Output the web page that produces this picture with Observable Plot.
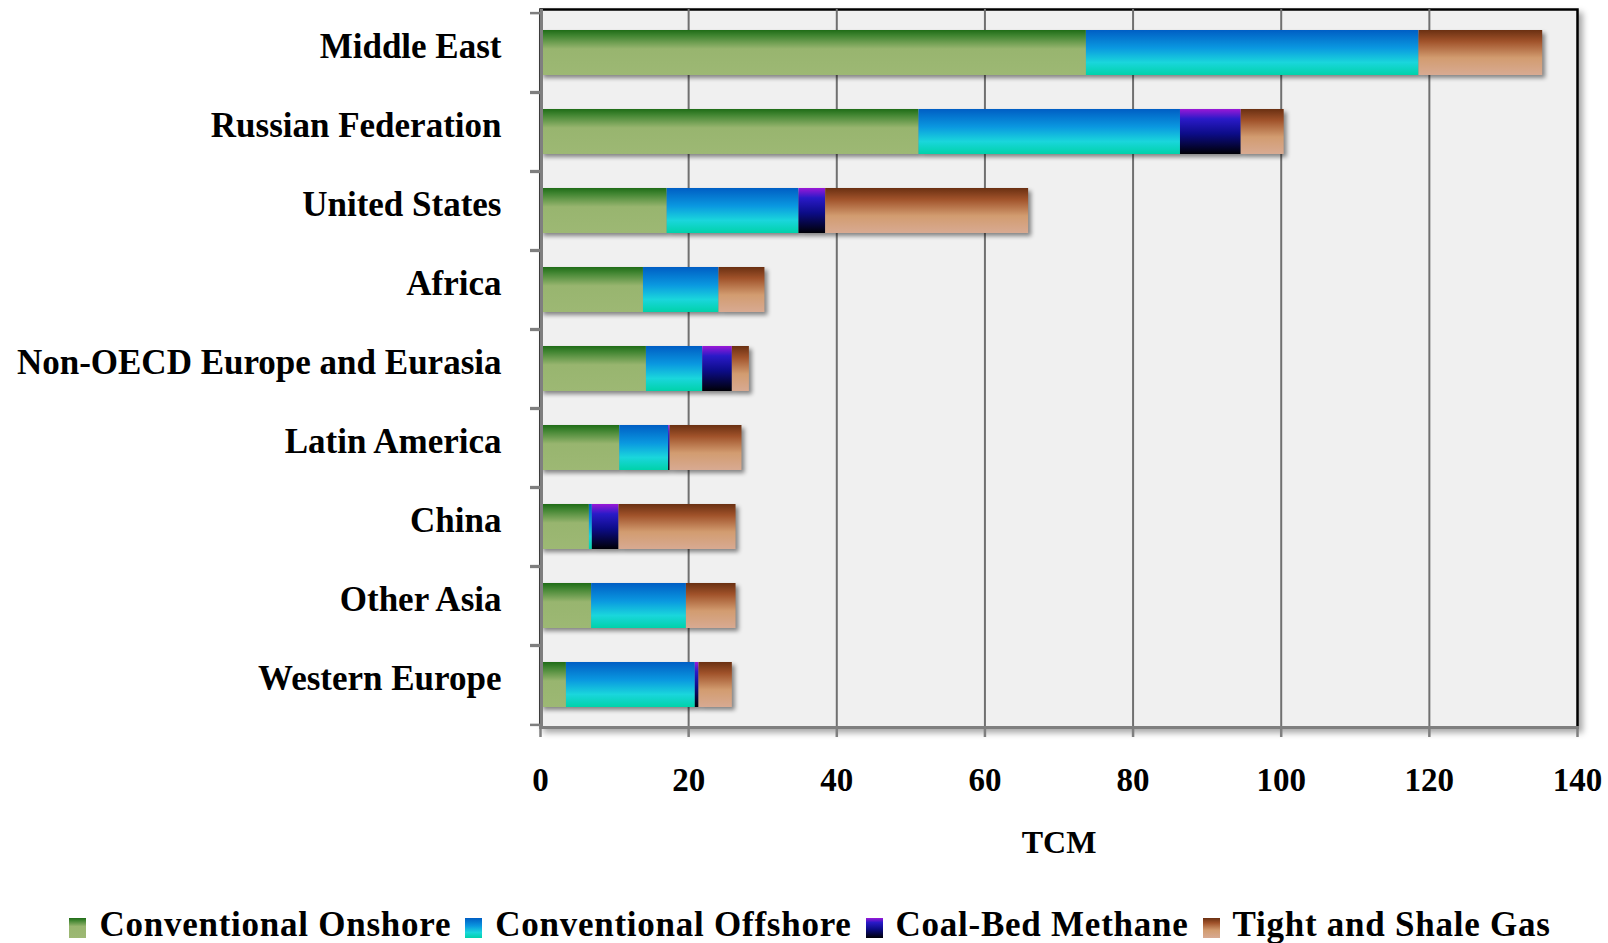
<!DOCTYPE html>
<html>
<head>
<meta charset="utf-8">
<script src="https://cdn.jsdelivr.net/npm/d3@7"></script>
<script src="https://cdn.jsdelivr.net/npm/@observablehq/plot@0.6"></script>
<style>
  html, body { margin: 0; padding: 0; background: #fff; }
  body { width: 1608px; height: 943px; overflow: hidden; font-family: "Liberation Serif", "Times New Roman", serif; }
  #chart svg { display: block; }
  .legend { display: flex; justify-content: center; align-items: flex-end; margin-top: 37px; margin-left: 26px;
            font-weight: bold; font-size: 35px; line-height: 36px; color: #000; letter-spacing: 0.75px; }
  .legend .item { display: flex; align-items: flex-end; margin-right: 14px; white-space: nowrap; }
  .legend .sw { display: inline-block; width: 17px; height: 20px; margin-right: 13px; margin-bottom: 5px; }
</style>
</head>
<body>
<div id="chart"></div>
<div class="legend" id="legend"></div>
<script>
// ---- data ----
const regions = ["Middle East", "Russian Federation", "United States", "Africa",
  "Non-OECD Europe and Eurasia", "Latin America", "China", "Other Asia", "Western Europe"];
const series = ["Conventional Onshore", "Conventional Offshore", "Coal-Bed Methane", "Tight and Shale Gas"];
const onshore  = [73.7, 51.1, 17.1, 13.9, 14.3, 10.7, 6.6, 6.9, 3.5];
const offshore = [44.9, 35.3, 17.8, 10.2, 7.6, 6.6, 0.4, 12.8, 17.4];
const cbm      = [0.0, 8.2, 3.6, 0.0, 4.0, 0.2, 3.6, 0.0, 0.5];
const tight    = [16.7, 5.8, 27.4, 6.2, 2.3, 9.7, 15.8, 6.7, 4.5];
const xTicks = [0, 20, 40, 60, 80, 100, 120, 140];
const xLabel = "TCM";

// ---- styles ----
const gradIds = ["gOn", "gOff", "gCbm", "gTight"];
const gradStops = [
  [[0, "#1f6c17"], [0.12, "#3f8430"], [0.42, "#98b56f"], [1, "#9db874"]],
  [[0, "#005ec4"], [0.4, "#0a98e0"], [0.72, "#1ad6dc"], [1, "#00d2aa"]],
  [[0, "#9a18d6"], [0.22, "#2a1ac8"], [0.55, "#0c0c88"], [1, "#000006"]],
  [[0, "#6a3012"], [0.25, "#a0522a"], [0.62, "#d29c70"], [1, "#d8aa92"]]
];

const values = [onshore, offshore, cbm, tight];
const data = regions.flatMap((r, i) => series.map((s, j) => ({region: r, type: s, value: values[j][i]})))
  .filter(d => d.value > 0);

const W = 1608, H = 870, mt = 9, mb = 143, ml = 540, mr = 31;
const step = (H - mt - mb) / regions.length;
const font = '"Liberation Serif", "Times New Roman", serif';

const plot = Plot.plot({
  width: W, height: H,
  marginTop: mt, marginBottom: mb, marginLeft: ml, marginRight: mr,
  style: {fontFamily: font, fontWeight: "bold", color: "#000", background: "#fff", overflow: "visible"},
  x: {domain: [0, 140]},
  y: {domain: regions, paddingInner: 0.436, paddingOuter: 0.218},
  color: {domain: series, range: gradIds.map(id => `url(#${id})`)},
  marks: [
    Plot.frame({fill: "#f0f0f0", stroke: "#000", strokeWidth: 2.5}),
    Plot.ruleX(xTicks.filter(v => v > 0 && v < 140), {stroke: "#707070", strokeWidth: 2}),
    Plot.barX(data, Plot.stackX({x: "value", y: "region", fill: "type"})),
    Plot.ruleX([0], {stroke: "#7f7f7f", strokeWidth: 3, dx: 1}),
    Plot.frame({anchor: "bottom", stroke: "#7f7f7f", strokeWidth: 3}),
    Plot.axisX({ticks: xTicks, tickSize: 10, tickPadding: 30, stroke: "#7f7f7f", strokeWidth: 2.5,
                fill: "#000", fontSize: 33, fontWeight: "bold", label: null}),
    Plot.axisY({tickSize: 0, tickPadding: 39, fill: "#000", fontSize: 35, fontWeight: "bold", dy: -6, label: null}),
    Plot.axisY({tickSize: 10, fill: "none", stroke: "#7f7f7f", strokeWidth: 2.5, dy: -step / 2, label: null}),
    Plot.axisY({tickSize: 10, fill: "none", stroke: "#7f7f7f", strokeWidth: 2.5, dy: step / 2, label: null}),
    Plot.text([xLabel], {text: d => d, frameAnchor: "bottom", dy: 125, fontSize: 32, fontWeight: "bold", fill: "#000"})
  ]
});

const svg = d3.select(plot);
const defs = svg.insert("defs", ":first-child");
gradIds.forEach((id, k) => {
  const g = defs.append("linearGradient").attr("id", id)
    .attr("x1", 0).attr("y1", 0).attr("x2", 0).attr("y2", 1);
  gradStops[k].forEach(([o, c]) => g.append("stop").attr("offset", o).attr("stop-color", c));
});
svg.selectAll('[aria-label="bar"]').style("filter", "drop-shadow(3px 3px 2px rgba(0,0,0,0.45))");
svg.select('[aria-label="frame"]').style("filter", "drop-shadow(4px 4px 3px rgba(0,0,0,0.35))");
document.getElementById("chart").appendChild(plot);

// ---- legend ----
const legend = d3.select("#legend");
series.forEach((s, k) => {
  const item = legend.append("span").attr("class", "item");
  const stops = gradStops[k].map(([o, c]) => `${c} ${o * 100}%`).join(", ");
  item.append("span").attr("class", "sw").style("background", `linear-gradient(to bottom, ${stops})`);
  item.append("span").text(s);
});
</script>
</body>
</html>
